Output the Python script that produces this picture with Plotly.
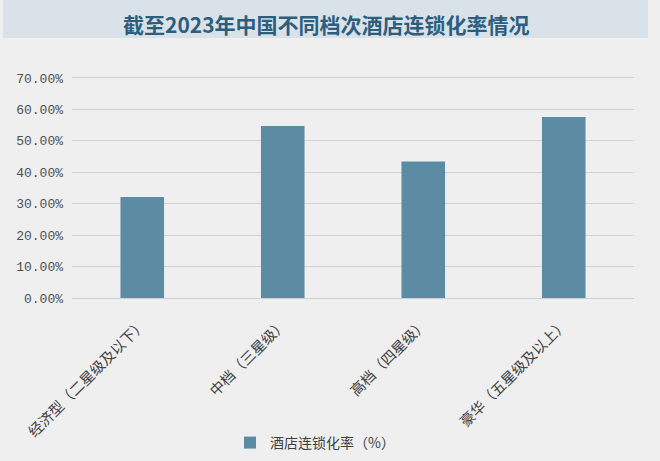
import plotly.graph_objects as go

categories = ["经济型（二星级及以下）", "中档（三星级）", "高档（四星级）", "豪华（五星级及以上）"]
values = [32.1, 54.7, 43.4, 57.6]
tick_vals = [0, 10, 20, 30, 40, 50, 60, 70]
tick_text = ["0.00%", "10.00%", "20.00%", "30.00%", "40.00%", "50.00%", "60.00%", "70.00%"]
series_name = "酒店连锁化率（%）"
title_text = "截至2023年中国不同档次酒店连锁化率情况"

bar_color = "#5b8ca3"

fig = go.Figure()
fig.add_trace(go.Bar(
    x=categories, y=values, name=series_name,
    marker=dict(color=bar_color, line=dict(width=0)),
    showlegend=True,
))

W, H = 660, 461
l, r, t, b = 72, 26, 75, 163
pw, ph = W - l - r, H - t - b

def px_x(x):
    return (x - l) / pw

def px_y(y):
    return (H - b - y) / ph

fig.add_shape(type="rect", xref="paper", yref="paper",
              x0=px_x(3), x1=px_x(648), y0=px_y(38), y1=px_y(0),
              fillcolor="#dae2e9", line=dict(width=0), layer="below")

fig.add_annotation(text="<b>" + title_text + "</b>", xref="paper", yref="paper",
                   x=px_x(326), y=px_y(24), xanchor="center", yanchor="middle",
                   showarrow=False,
                   font=dict(family="Noto Sans CJK SC", size=21, color="#2d5e7e"))

fig.update_layout(
    width=W, height=H,
    margin=dict(l=l, r=r, t=t, b=b, autoexpand=False),
    paper_bgcolor="#efefef",
    plot_bgcolor="#efefef",
    bargap=0.69,
    font=dict(family="Noto Sans CJK SC", color="#404040"),
    legend=dict(orientation="h", x=230 / W, y=1 - 443 / H, xref="container", yref="container",
                xanchor="left", yanchor="middle",
                font=dict(size=14, color="#404040"), bgcolor="rgba(0,0,0,0)",
                itemwidth=30),
)
fig.update_xaxes(tickangle=-45, tickfont=dict(size=14.5, color="#404040", family="Noto Sans CJK SC"),
                 showgrid=False, showline=True, linecolor="#d0d0d0", ticks="",
                 ticklabelstandoff=11, automargin=False)
fig.update_yaxes(range=[0, 70.95], tickvals=tick_vals, ticktext=tick_text,
                 tickfont=dict(size=13, color="#505050", family="Liberation Mono"),
                 showgrid=True, gridcolor="#d2d2d2", gridwidth=1, zeroline=False,
                 ticks="", showline=False, ticklabelstandoff=8, automargin=False)

fig.write_html("out.html", config={"displayModeBar": False},
               post_script="document.body.style.margin='0';")
